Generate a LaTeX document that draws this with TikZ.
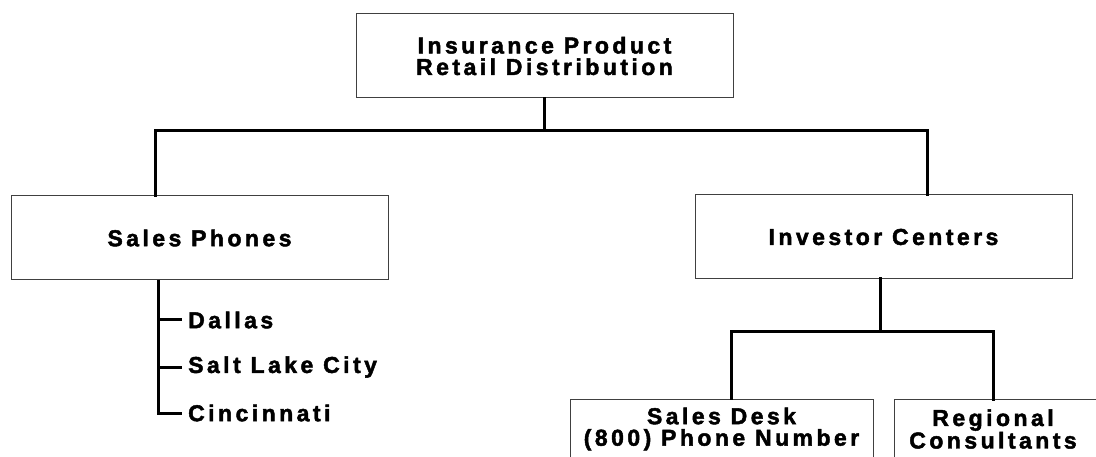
\documentclass[tikz,border=0pt]{standalone}
\usepackage{fontspec}
\newfontfamily\chartfont{Liberation Sans Bold}[LetterSpace=15,FakeBold=2]
\usepackage{tikz}
\usetikzlibrary{calc,positioning}

\begin{document}
\begin{tikzpicture}[x=1pt,y=-1pt,
	box/.style={draw=black!75,line width=1pt,minimum width=377pt,minimum height=84pt,inner sep=0pt,align=center,font=\chartfont\fontsize{23}{21.5}\selectfont},
	conn/.style={line width=3pt,line cap=rect},
	city/.style={anchor=west,inner sep=0pt,font=\chartfont\fontsize{23}{21.5}\selectfont}]

	\useasboundingbox (0,0) rectangle (1096,457);
	\begin{scope}
	\clip (0,0) rectangle (1096,457);

	\node[box] (retail) at (544.5,56) {Insurance Product\\Retail Distribution};
	\node[box] (phones) at (199.5,238) {Sales Phones};
	\node[box] (investor) at (883.5,237) {Investor Centers};

	\node[box,minimum width=303pt,minimum height=60pt] (desk) at (721.5,429) {Sales Desk\\(800) Phone Number};
	\draw[black!75,line width=1pt] (894,399) rectangle (1130,490);
	\node[align=center,inner sep=0pt,font=\chartfont\fontsize{23}{21.5}\selectfont] (regional) at (993,429) {Regional\\Consultants};

	% top level
	\coordinate (lt) at (155,131);
	\coordinate (rt) at (927,131);
	\draw[conn] (retail.south) -- (retail.south |- lt);
	\draw[conn] (lt |- phones.north) -- (lt) -- (rt) -- (rt |- investor.north);

	% sales phones list
	\node[city] (dallas) at (188,320) {Dallas};
	\node[city] (saltlake) at (188,367) {Salt Lake City};
	\node[city] (cincy) at (188,413) {Cincinnati};
	\draw[conn,line cap=butt] (158,280) -- (158,413) -- ($(cincy.west)+(-6,0)$);
	\draw[conn,line cap=butt] (158,320) -- ($(dallas.west)+(-6,0)$);
	\draw[conn,line cap=butt] (158,367) -- ($(saltlake.west)+(-6,0)$);

	% investor centers
	\coordinate (lb) at (731,332);
	\coordinate (rb) at (993,332);
	\draw[conn] (880,279) -- (880,332);
	\draw[conn] (lb |- desk.north) -- (lb) -- (rb) -- (rb |- 0,399);
	\end{scope}
\end{tikzpicture}
\end{document}
